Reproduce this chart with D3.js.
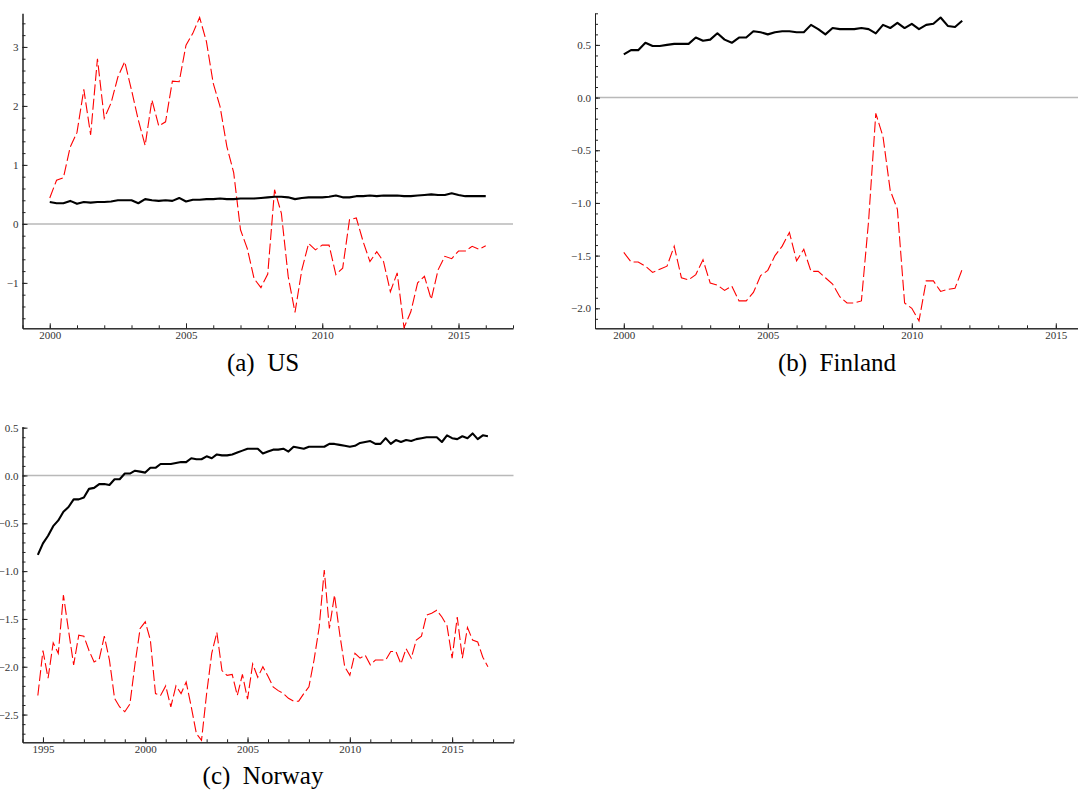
<!DOCTYPE html>
<html lang="en">
<head>
  <meta charset="UTF-8" />
  <title>US, Finland, Norway</title>
  <script src="https://d3js.org/d3.v7.min.js"></script>
  <style>
    body {
      margin: 0;
      padding: 0;
      background-color: white;
    }

    svg {
      display: block;
      background-color: white;
    }

    .caption {
      font-family: "Liberation Serif", "Times New Roman", serif;
      font-size: 25px;
      fill: black;
    }

    .tick text {
      font-family: "Liberation Serif", "Times New Roman", serif;
      font-size: 11px;
      fill: #333;
    }
  </style>
</head>
<body>
  <svg id="fig" width="1078" height="791"></svg>

  <script>
    // quarterly series, first value at the start year
    const usStart = 2000;
    const usRed = [0.44, 0.74, 0.78, 1.30, 1.55, 2.28, 1.51, 2.80, 1.79, 2.05, 2.49, 2.75,
      2.27, 1.76, 1.33, 2.10, 1.66, 1.73, 2.42, 2.41, 3.03, 3.23, 3.50, 3.09,
      2.38, 1.99, 1.31, 0.87, -0.10, -0.42, -0.93, -1.08, -0.85, 0.58, 0.18, -0.89,
      -1.50, -0.78, -0.33, -0.44, -0.36, -0.36, -0.86, -0.75, 0.07, 0.10, -0.30, -0.64,
      -0.47, -0.64, -1.15, -0.83, -1.76, -1.49, -1.00, -0.89, -1.28, -0.78, -0.55, -0.59,
      -0.46, -0.46, -0.38, -0.43, -0.37];
    const usBlack = [0.37, 0.35, 0.35, 0.39, 0.34, 0.37, 0.36, 0.37, 0.37, 0.38, 0.40, 0.40,
      0.40, 0.35, 0.42, 0.40, 0.39, 0.40, 0.39, 0.44, 0.38, 0.41, 0.41, 0.42,
      0.42, 0.43, 0.42, 0.42, 0.43, 0.43, 0.43, 0.44, 0.45, 0.46, 0.46, 0.45,
      0.42, 0.44, 0.45, 0.45, 0.45, 0.46, 0.48, 0.45, 0.45, 0.47, 0.47, 0.48,
      0.47, 0.48, 0.48, 0.48, 0.47, 0.47, 0.48, 0.49, 0.50, 0.49, 0.49, 0.52,
      0.49, 0.47, 0.47, 0.47, 0.47];

    const fiStart = 2000;
    const fiRed = [-1.47, -1.56, -1.56, -1.60, -1.66, -1.63, -1.60, -1.41, -1.71, -1.73, -1.68, -1.54,
      -1.76, -1.78, -1.83, -1.79, -1.93, -1.93, -1.85, -1.69, -1.64, -1.50, -1.41, -1.28,
      -1.55, -1.44, -1.65, -1.65, -1.71, -1.77, -1.89, -1.95, -1.95, -1.93, -1.17, -0.15,
      -0.37, -0.88, -1.06, -1.95, -2.00, -2.12, -1.74, -1.74, -1.84, -1.82, -1.81, -1.63];
    const fiBlack = [0.41, 0.45, 0.45, 0.52, 0.49, 0.49, 0.50, 0.51, 0.51, 0.51, 0.57, 0.54,
      0.55, 0.61, 0.55, 0.52, 0.57, 0.57, 0.63, 0.62, 0.60, 0.62, 0.63, 0.63,
      0.62, 0.62, 0.69, 0.65, 0.60, 0.66, 0.65, 0.65, 0.65, 0.66, 0.65, 0.61,
      0.69, 0.66, 0.71, 0.66, 0.70, 0.65, 0.69, 0.70, 0.76, 0.68, 0.67, 0.73];

    const noStart = 1994.75;
    const noRed = [-2.30, -1.83, -2.12, -1.75, -1.86, -1.25, -1.62, -1.98, -1.67, -1.68,
      -1.83, -1.95, -1.92, -1.68, -1.93, -2.33, -2.42, -2.47, -2.39, -1.97,
      -1.60, -1.53, -1.72, -2.28, -2.30, -2.20, -2.42, -2.20, -2.28, -2.16,
      -2.42, -2.70, -2.77, -2.28, -1.86, -1.64, -2.04, -2.09, -2.08, -2.30,
      -2.08, -2.34, -1.97, -2.11, -2.00, -2.10, -2.21, -2.25, -2.28, -2.33,
      -2.36, -2.36, -2.28, -2.21, -1.93, -1.59, -0.99, -1.60, -1.25, -1.65,
      -2.00, -2.09, -1.86, -1.91, -1.88, -1.98, -1.93, -1.93, -1.93, -1.84,
      -1.84, -1.97, -1.81, -1.91, -1.72, -1.68, -1.46, -1.44, -1.41, -1.48,
      -1.57, -1.91, -1.48, -1.91, -1.59, -1.72, -1.74, -1.90, -2.00];
    const noBlack = [-0.83, -0.71, -0.63, -0.53, -0.47, -0.38, -0.33, -0.25, -0.25, -0.23,
      -0.14, -0.13, -0.09, -0.09, -0.10, -0.04, -0.04, 0.02, 0.02, 0.05,
      0.04, 0.03, 0.08, 0.08, 0.12, 0.12, 0.12, 0.13, 0.14, 0.14,
      0.18, 0.17, 0.17, 0.20, 0.18, 0.22, 0.21, 0.21, 0.22, 0.24,
      0.26, 0.28, 0.28, 0.28, 0.23, 0.25, 0.27, 0.27, 0.28, 0.25,
      0.30, 0.29, 0.28, 0.30, 0.30, 0.30, 0.30, 0.33, 0.33, 0.32,
      0.31, 0.30, 0.31, 0.34, 0.35, 0.36, 0.33, 0.33, 0.39, 0.33,
      0.37, 0.35, 0.37, 0.36, 0.38, 0.39, 0.40, 0.40, 0.40, 0.35,
      0.42, 0.39, 0.38, 0.41, 0.39, 0.44, 0.38, 0.42, 0.41];

    const captions = ["(a)\u2002US", "(b)\u2002Finland", "(c)\u2002Norway"];

    // layout of the three panels (pixel boxes + axis ranges)
    const panels = [
      { start: usStart, red: usRed, black: usBlack, caption: captions[0],
        xDomain: [1999, 2017], yDomain: [-1.77, 3.57],
        left: 22.5, right: 513, top: 13.3, bottom: 328.3,
        yMajor: 1, yMinor: 0.2, yFmt: d3.format("d"), capX: 263, capY: 371 },
      { start: fiStart, red: fiRed, black: fiBlack, caption: captions[1],
        xDomain: [1999, 2017], yDomain: [-2.19, 0.80],
        left: 595, right: 1113.4, top: 13.3, bottom: 328.3,
        yMajor: 0.5, yMinor: 0.1, yFmt: d3.format(".1f"), capX: 837, capY: 371 },
      { start: noStart, red: noRed, black: noBlack, caption: captions[2],
        xDomain: [1994, 2018], yDomain: [-2.79, 0.51],
        left: 22.5, right: 513.5, top: 426.7, bottom: 742.3,
        yMajor: 0.5, yMinor: 0.1, yFmt: d3.format(".1f"), capX: 263, capY: 784 }
    ];

    const svg = d3.select("#fig");

    function stepRange(lo, hi, step) {
      const out = [];
      for (let k = Math.ceil(lo / step - 1e-9); k * step <= hi + 1e-9; k++) {
        out.push(+(k * step).toFixed(4));
      }
      return out;
    }

    function drawPanel(p) {
      const x = d3.scaleLinear().domain(p.xDomain).range([p.left, p.right]);
      const y = d3.scaleLinear().domain(p.yDomain).range([p.bottom, p.top]);
      const g = svg.append("g");

      // grey zero line
      g.append("line")
        .attr("x1", p.left)
        .attr("x2", p.right)
        .attr("y1", y(0))
        .attr("y2", y(0))
        .attr("stroke", "#b9b9b9")
        .attr("stroke-width", 1.5);

      const yMinor = stepRange(p.yDomain[0], p.yDomain[1], p.yMinor);
      const yMajor = stepRange(p.yDomain[0], p.yDomain[1], p.yMajor);
      const xMinor = d3.range(p.xDomain[0], p.xDomain[1] + 1, 1);
      const xMajor = stepRange(p.xDomain[0], p.xDomain[1], 5);

      // minor ticks (no labels), then major ticks with labels
      g.append("g")
        .attr("transform", `translate(${p.left},0)`)
        .attr("color", "#222")
        .call(d3.axisLeft(y).tickValues(yMinor).tickSize(-3).tickSizeOuter(0).tickFormat(""));

      g.append("g")
        .attr("transform", `translate(${p.left},0)`)
        .attr("color", "#222")
        .call(d3.axisLeft(y).tickValues(yMajor).tickSize(-5).tickSizeOuter(0).tickPadding(4).tickFormat(p.yFmt));

      g.append("g")
        .attr("transform", `translate(0,${p.bottom})`)
        .attr("color", "#222")
        .call(d3.axisBottom(x).tickValues(xMinor).tickSize(-3).tickSizeOuter(0).tickFormat(""));

      g.append("g")
        .attr("transform", `translate(0,${p.bottom})`)
        .attr("color", "#222")
        .call(d3.axisBottom(x).tickValues(xMajor).tickSize(-5).tickSizeOuter(0).tickPadding(3).tickFormat(d3.format("d")));

      const line = d3.line()
        .x((d, i) => x(p.start + i / 4))
        .y(d => y(d));

      // red dashed series
      g.append("path")
        .datum(p.red)
        .attr("d", line)
        .attr("fill", "none")
        .attr("stroke", "red")
        .attr("stroke-width", 1.1)
        .attr("stroke-dasharray", "11,3.5");

      // black solid series
      g.append("path")
        .datum(p.black)
        .attr("d", line)
        .attr("fill", "none")
        .attr("stroke", "black")
        .attr("stroke-width", 2.1)
        .attr("stroke-linejoin", "round");

      svg.append("text")
        .attr("class", "caption")
        .attr("x", p.capX)
        .attr("y", p.capY)
        .attr("text-anchor", "middle")
        .text(p.caption);
    }

    panels.forEach(drawPanel);
  </script>
</body>
</html>
